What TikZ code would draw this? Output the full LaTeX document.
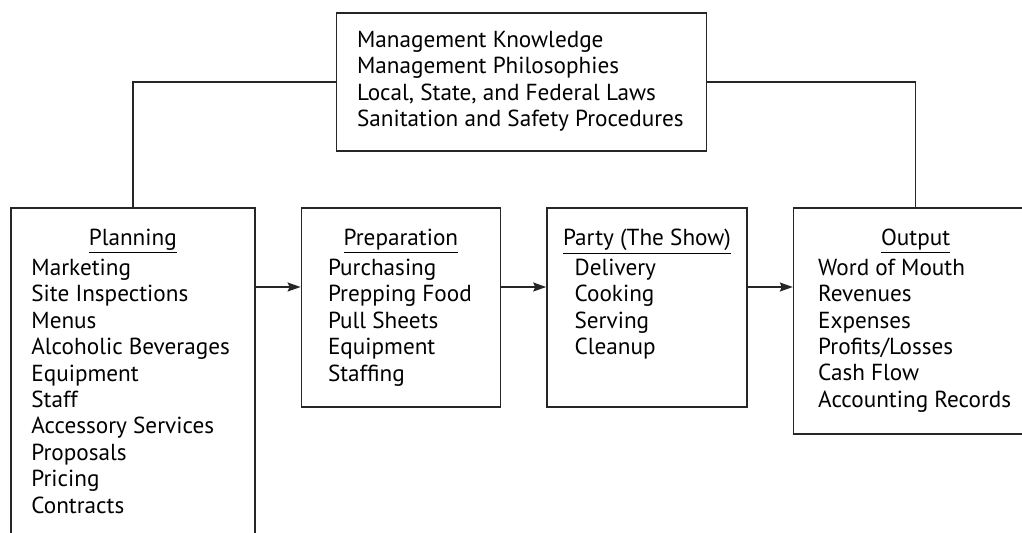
\documentclass[tikz,border=0pt]{standalone}
\usepackage{fontspec}
\setmainfont{PT Sans}
\usetikzlibrary{arrows.meta,positioning}

\begin{document}
\begin{tikzpicture}[node distance=22.5pt,
  every node/.style={font=\fontsize{11.6}{13.2}\selectfont,inner sep=0pt},
  box/.style={draw=black!85,line width=0.8pt,anchor=north west},
  head/.style={anchor=base},
  list/.style={anchor=north west,align=left,execute at begin node=\strut},
  flow/.style={-{Stealth[length=6.5pt,width=4.5pt,inset=1pt]},draw=black!85,line width=0.8pt},
  link/.style={draw=black!85,line width=0.8pt}]
\clip (0,0) rectangle (511pt,-266pt);
% boxes
\node[box,minimum width=185pt,minimum height=69pt,anchor=north] (rules) at (260.75pt,-6pt) {};
\node[box,minimum width=122pt,minimum height=180pt] (plan) at (5pt,-103.5pt) {};
\node[box,minimum width=99.5pt,minimum height=99.5pt,right=of plan.north east,anchor=north west] (prep) {};
\node[box,minimum width=100pt,minimum height=99.5pt,right=of prep.north east,anchor=north west] (party) {};
\node[box,minimum width=122pt,minimum height=113pt,right=of party.north east,anchor=north west] (out) {};
% texts
\node[list] (rules-l) at ([xshift=10.5pt,yshift=-9.3pt]rules.north west) {Management Knowledge\\ Management Philosophies\\ Local, State, and Federal Laws\\ Sanitation and Safety Procedures};
\node[head] (plan-h) at ([yshift=-19pt]plan.north) {\underline{Planning}};
\node[list] (plan-l) at ([xshift=10.5pt,yshift=-25.8pt]plan.north west) {Marketing\\ Site Inspections\\ Menus\\ Alcoholic Beverages\\ Equipment\\ Staff\\ Accessory Services\\ Proposals\\ Pricing\\ Contracts};
\node[head] (prep-h) at ([yshift=-19pt]prep.north) {\underline{Preparation}};
\node[list] (prep-l) at ([xshift=13.5pt,yshift=-25.8pt]prep.north west) {Purchasing\\ Prepping Food\\ Pull Sheets\\ Equipment\\ Staffing};
\node[head] (party-h) at ([yshift=-19pt]party.north) {\underline{Party (The Show)}};
\node[list] (party-l) at ([xshift=14pt,yshift=-25.8pt]party.north west) {Delivery\\ Cooking\\ Serving\\ Cleanup};
\node[head] (out-h) at ([yshift=-19pt]out.north) {\underline{Output}};
\node[list] (out-l) at ([xshift=12.5pt,yshift=-25.8pt]out.north west) {Word of Mouth\\ Revenues\\ Expenses\\ Profits/Losses\\ Cash Flow\\ Accounting Records};
% connectors
\draw[flow] ([yshift=-40pt]plan.north east) -- ([yshift=-40pt]prep.north west);
\draw[flow] ([yshift=-40pt]prep.north east) -- ([yshift=-40pt]party.north west);
\draw[flow] ([yshift=-40pt]party.north east) -- ([yshift=-40pt]out.north west);
\draw[link] (rules.west) -| (plan.north);
\draw[link] (rules.east) -| (out.north);
\end{tikzpicture}
\end{document}
